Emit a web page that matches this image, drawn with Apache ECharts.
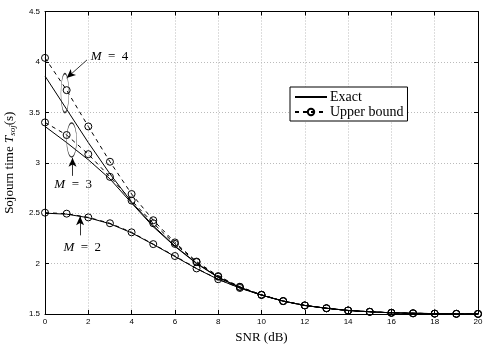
<!DOCTYPE html>
<html>
<head>
<meta charset="utf-8">
<script src="https://cdn.jsdelivr.net/npm/echarts@6/dist/echarts.min.js"></script>
<style>
  html, body { margin: 0; padding: 0; background: #fff; }
  #chart { width: 498px; height: 346px; }
</style>
</head>
<body>
<div id="chart"></div>
<script>
// SNR in dB
var snr = [0, 1, 2, 3, 4, 5, 6, 7, 8, 9, 10, 11, 12, 13, 14, 15, 16, 17, 18, 19, 20]

// exact sojourn time (solid)
var exactM2 = [2.50, 2.49, 2.455, 2.395, 2.305, 2.19, 2.07, 1.95, 1.843, 1.757, 1.687, 1.628, 1.585, 1.557, 1.535, 1.522, 1.512, 1.507, 1.504, 1.502, 1.501]
var exactM3 = [3.36, 3.20, 3.03, 2.84, 2.60, 2.365, 2.17, 2.00, 1.862, 1.763, 1.687, 1.628, 1.585, 1.557, 1.535, 1.522, 1.512, 1.507, 1.504, 1.502, 1.501]
var exactM4 = [3.86, 3.53, 3.20, 2.89, 2.61, 2.375, 2.175, 2.005, 1.865, 1.765, 1.687, 1.628, 1.585, 1.557, 1.535, 1.522, 1.512, 1.507, 1.504, 1.502, 1.501]

// upper bound (dashed + circles)
var upperM2 = [2.505, 2.495, 2.458, 2.40, 2.31, 2.193, 2.075, 1.952, 1.845, 1.758, 1.69, 1.628, 1.585, 1.557, 1.535, 1.522, 1.512, 1.507, 1.504, 1.502, 1.501]
var upperM3 = [3.40, 3.275, 3.085, 2.86, 2.625, 2.40, 2.195, 2.015, 1.87, 1.768, 1.69, 1.628, 1.585, 1.557, 1.535, 1.522, 1.512, 1.507, 1.504, 1.502, 1.501]
var upperM4 = [4.04, 3.72, 3.36, 3.01, 2.69, 2.43, 2.21, 2.02, 1.876, 1.77, 1.69, 1.628, 1.585, 1.557, 1.535, 1.522, 1.512, 1.507, 1.504, 1.502, 1.501]

var serif = 'Liberation Serif'
var sans = 'Liberation Sans'

function pairs(ys) {
  return snr.map(function(x, i) { return [x, ys[i]] })
}

function exactSeries(ys, extra) {
  var s = {
    name: 'Exact',
    type: 'line',
    data: pairs(ys),
    symbol: 'none',
    lineStyle: { color: '#000', width: 1 },
    itemStyle: { color: '#000' },
    animation: false,
    z: 3
  }
  return Object.assign(s, extra || {})
}

function upperSeries(ys, extra) {
  var s = {
    name: 'Upper bound',
    type: 'line',
    data: pairs(ys),
    symbol: 'circle',
    symbolSize: 7,
    showAllSymbol: true,
    lineStyle: { color: '#000', width: 1, type: [4, 4] },
    itemStyle: { color: 'rgba(255,255,255,0)', borderColor: '#000', borderWidth: 1 },
    animation: false,
    z: 4
  }
  return Object.assign(s, extra || {})
}

var arrowLine = { color: '#000', width: 0.8, type: 'solid' }
var mRich = { i: { fontFamily: serif, fontStyle: 'italic', fontSize: 13, color: '#000' } }
var ring = { color: 'rgba(0,0,0,0)', borderColor: '#333', borderWidth: 0.8 }
var dot = { color: 'rgba(0,0,0,0)', borderWidth: 0 }

function mText(coord, txt) {
  return {
    coord: coord, symbol: 'circle', symbolSize: 2, itemStyle: dot,
    label: { show: true, position: 'inside', formatter: txt, rich: mRich, fontFamily: serif, fontSize: 13, color: '#000' }
  }
}

// annotations (ellipses, arrows, M labels) in data coordinates
var annot = {
  markLine: {
    silent: true,
    symbol: ['none', 'arrow'],
    symbolSize: [6, 9],
    label: { show: false },
    lineStyle: arrowLine,
    data: [
      [{ coord: [1.94, 4.02] }, { coord: [1.0, 3.84] }],
      [{ coord: [1.27, 2.87] }, { coord: [1.27, 3.05] }],
      [{ coord: [1.62, 2.28] }, { coord: [1.62, 2.47] }]
    ]
  },
  markPoint: {
    silent: true,
    data: [
      { coord: [0.92, 3.69], symbol: 'circle', symbolSize: [8, 39], itemStyle: ring, label: { show: false } },
      { coord: [1.23, 3.225], symbol: 'circle', symbolSize: [10, 34], itemStyle: ring, label: { show: false } },
      mText([2.98, 4.05], '{i|M}  =  4'),
      mText([1.3, 2.78], '{i|M}  =  3'),
      mText([1.72, 2.16], '{i|M}  =  2')
    ]
  }
}

var chart = echarts.init(document.getElementById('chart'), null, { renderer: 'canvas' })

chart.setOption({
  backgroundColor: '#fff',
  animation: false,
  grid: { left: 45, right: 20, top: 11.5, bottom: 32, outerBoundsMode: 'none', containLabel: false },
  legend: {
    data: [
      { name: 'Exact', itemStyle: { opacity: 0 } },
      { name: 'Upper bound' }
    ],
    orient: 'vertical',
    left: 290,
    top: 87,
    itemWidth: 32,
    itemHeight: 8,
    itemGap: 1,
    padding: [3, 4, 2, 4],
    backgroundColor: '#fff',
    borderColor: '#000',
    borderWidth: 1,
    borderRadius: 0,
    textStyle: { fontFamily: serif, fontSize: 14, color: '#000', padding: [0, 0, 0, -2] },
    selectedMode: false
  },
  xAxis: [{
    type: 'value',
    min: 0,
    max: 20,
    interval: 2,
    name: 'SNR (dB)',
    nameLocation: 'middle',
    nameGap: 14,
    nameTextStyle: { fontFamily: serif, fontSize: 13, color: '#000' },
    axisLine: { onZero: false, lineStyle: { color: '#000', width: 1 } },
    axisTick: { inside: true, length: 4, lineStyle: { color: '#000' } },
    axisLabel: { fontFamily: sans, fontSize: 8, color: '#000', margin: 4 },
    splitLine: { show: true, lineStyle: { color: '#bbb', type: [1, 2], width: 1 } }
  }, {
    type: 'value',
    position: 'top',
    min: 0,
    max: 20,
    interval: 2,
    axisLine: { onZero: false, lineStyle: { color: '#000', width: 1 } },
    axisTick: { inside: true, length: 4, lineStyle: { color: '#000' } },
    axisLabel: { show: false },
    splitLine: { show: false }
  }],
  yAxis: [{
    type: 'value',
    min: 1.5,
    max: 4.5,
    interval: 0.5,
    name: 'Sojourn time {i|T}{s|soj}(s)',
    nameLocation: 'middle',
    nameGap: 28,
    nameTextStyle: {
      fontFamily: serif, fontSize: 13, color: '#000',
      rich: {
        i: { fontFamily: serif, fontStyle: 'italic', fontSize: 13, color: '#000' },
        s: { fontFamily: serif, fontStyle: 'italic', fontSize: 9, color: '#000', verticalAlign: 'bottom', padding: [6, 0, 0, 0] }
      }
    },
    axisLine: { onZero: false, lineStyle: { color: '#000', width: 1 } },
    axisTick: { inside: true, length: 4, lineStyle: { color: '#000' } },
    axisLabel: { fontFamily: sans, fontSize: 8, color: '#000', margin: 5 },
    splitLine: { show: true, lineStyle: { color: '#bbb', type: [1, 2], width: 1 } }
  }, {
    type: 'value',
    position: 'right',
    min: 1.5,
    max: 4.5,
    interval: 0.5,
    axisLine: { onZero: false, lineStyle: { color: '#000', width: 1 } },
    axisTick: { inside: true, length: 4, lineStyle: { color: '#000' } },
    axisLabel: { show: false },
    splitLine: { show: false }
  }],
  series: [
    exactSeries(exactM4, annot),
    exactSeries(exactM3),
    exactSeries(exactM2),
    upperSeries(upperM4),
    upperSeries(upperM3),
    upperSeries(upperM2)
  ]
})
</script>
</body>
</html>
